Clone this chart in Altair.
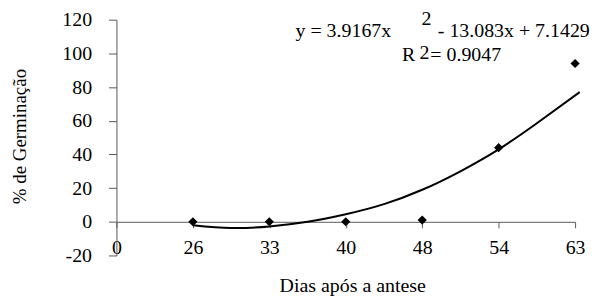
import json
import altair as alt
import pandas as pd

# Categories on the x axis (days after anthesis), evenly spaced as in the original
days = ["0", "26", "33", "40", "48", "54", "63"]

# Observed germination (%) at categories 26..63 (positions 1..6)
point_pos = [1, 2, 3, 4, 5, 6]
germination = [0, 0, 0, 1, 44, 94]

# Trend curve (position, value)
curve_pos = [1.0, 1.5, 2.0, 2.5, 3.0, 3.5, 4.0, 4.5, 5.0, 5.5, 6.06]
curve_val = [-2.0, -3.7, -2.8, 0.0, 4.5, 10.5, 19.0, 30.0, 43.0, 58.5, 77.0]

# Annotation text
eq_parts = ["y = 3.9167x", "2", "- 13.083x + 7.1429"]
r2_parts = ["R", "2", "= 0.9047"]

y_ticks = [-20, 0, 20, 40, 60, 80, 100, 120]

FONT = "Liberation Serif"
AXIS_COLOR = "#595959"

W, H = 461, 237

points_df = pd.DataFrame({"pos": point_pos, "germ": germination})
curve_df = pd.DataFrame({"pos": curve_pos, "val": curve_val})

x_scale = alt.Scale(domain=[0, 6], nice=False, zero=False)
y_scale = alt.Scale(domain=[-20, 120], nice=False, zero=False)

label_expr = json.dumps(days) + "[datum.value]"

x_axis = alt.Axis(
    values=list(range(len(days))),
    labelExpr=label_expr,
    title="Dias após a antese",
    grid=False,
    offset=-(H * 20 / 140),
    domainColor=AXIS_COLOR,
    tickColor=AXIS_COLOR,
    tickSize=6,
    labelPadding=10,
    labelFont=FONT,
    labelFontSize=20,
    labelColor="black",
    labelFlush=False,
    labelOverlap=False,
    labelBaseline="top",
    titleFont=FONT,
    titleFontSize=20,
    titleFontWeight="normal",
    titleColor="black",
    titleX=237,
    titleY=69.6,
    titleAlign="center",
    titleBaseline="alphabetic",
)

y_axis = alt.Axis(
    values=y_ticks,
    labelExpr="'' + datum.value",
    title="% de Germinação",
    grid=False,
    domainColor=AXIS_COLOR,
    tickColor=AXIS_COLOR,
    tickSize=8,
    labelPadding=17,
    labelFont=FONT,
    labelFontSize=20,
    labelColor="black",
    labelFlush=False,
    labelOverlap=False,
    titleFont=FONT,
    titleFontSize=19,
    titleFontWeight="normal",
    titleColor="black",
    titleAngle=270,
    titleX=-91,
    titleY=117,
    titleAlign="center",
    titleBaseline="alphabetic",
)

curve = alt.Chart(curve_df).mark_line(
    color="black", strokeWidth=2, interpolate="natural", clip=False
).encode(
    x=alt.X("pos:Q", scale=x_scale, axis=x_axis),
    y=alt.Y("val:Q", scale=y_scale, axis=y_axis),
)

pts = alt.Chart(points_df).mark_point(
    shape="diamond", filled=True, size=85, color="black", opacity=1
).encode(
    x=alt.X("pos:Q", scale=x_scale, axis=x_axis),
    y=alt.Y("germ:Q", scale=y_scale, axis=y_axis),
)


def label(text, x, y):
    return alt.Chart(pd.DataFrame({"t": [text]})).mark_text(
        font=FONT, fontSize=20, color="black", align="left", baseline="alphabetic"
    ).encode(text="t:N", x=alt.value(x), y=alt.value(y))


texts = [
    label(eq_parts[0], 180, 17.7),
    label(eq_parts[1], 306.5, 5),
    label(eq_parts[2], 323, 17.7),
    label(r2_parts[0], 287, 41.5),
    label(r2_parts[1], 304.5, 39.3),
    label(r2_parts[2], 315.5, 41.5),
]

chart = alt.layer(curve, pts, *texts).properties(
    width=W,
    height=H,
    autosize=alt.AutoSizeParams(type="none"),
    padding={"left": 109, "top": 11, "right": 18, "bottom": 40},
).configure(
    background="white"
).configure_view(
    stroke=None
).configure_axis(
    labelOverlap=False
)

chart.save("out.html", embed_options={"renderer": "svg", "actions": False})
